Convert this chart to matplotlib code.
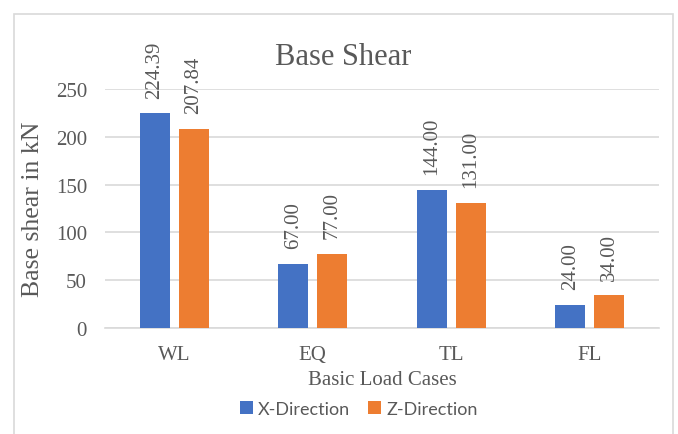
import numpy as np
import matplotlib
matplotlib.use('Agg')
import matplotlib.pyplot as plt
from matplotlib.patches import Rectangle

# Base shear values
cases = ['WL', 'EQ', 'TL', 'FL']
x_dir = [224.39, 67.00, 144.00, 24.00]
z_dir = [207.84, 77.00, 131.00, 34.00]
series_names = ['X-Direction', 'Z-Direction']
y_ticks = [0, 50, 100, 150, 200, 250]

grey = '#595959'
serif = ['Liberation Serif', 'DejaVu Serif']

fig = plt.figure(figsize=(6.78, 4.35), dpi=100)
ax = fig.add_axes([105 / 678, 1 - 329 / 435, 554 / 678, 239 / 435])

pos = np.arange(len(cases))
w = 0.217
gap = 0.065
off = (w + gap) / 2
b1 = ax.bar(pos - off, x_dir, w, color='#4472C4', label=series_names[0], zorder=3)
b2 = ax.bar(pos + off, z_dir, w, color='#ED7D31', label=series_names[1], zorder=3)

# rotated value labels above each bar
for bars, vals in [(b1, x_dir), (b2, z_dir)]:
    for b, v in zip(bars, vals):
        ax.annotate('%.2f' % v, (b.get_x() + b.get_width() / 2, v),
                    xytext=(0, 11.5), textcoords='offset points',
                    rotation=90, ha='center', va='bottom',
                    fontsize=15, color=grey, family=serif, annotation_clip=False)

ax.set_xlim(-0.5, len(cases) - 0.5)
ax.set_ylim(0, 250)
ax.set_yticks(y_ticks)
ax.set_xticks(pos)
ax.set_xticklabels(cases)
ax.yaxis.grid(True, color='#d9d9d9', linewidth=1.2, zorder=0)
ax.tick_params(length=0, labelsize=15, labelcolor=grey)
ax.tick_params(axis='y', pad=13)
ax.tick_params(axis='x', pad=12)
for lab in ax.get_xticklabels() + ax.get_yticklabels():
    lab.set_family(serif)
for s in ['top', 'right', 'left']:
    ax.spines[s].set_visible(False)
ax.spines['bottom'].set_color('#d9d9d9')
ax.spines['bottom'].set_linewidth(1.2)

ax.set_ylabel('Base shear in kN', fontsize=18.5, color=grey, family=serif)
ax.yaxis.set_label_coords(-0.11, 0.5)

fig.text(343 / 678, 1 - 65 / 435, 'Base Shear', fontsize=22, color=grey,
         family=serif, ha='center', va='baseline')
fig.text(382 / 678, 1 - 385 / 435, 'Basic Load Cases', fontsize=15, color=grey,
         family=serif, ha='center', va='baseline')

leg = fig.legend(loc='center', bbox_to_anchor=(359 / 678, 1 - 410 / 435), ncol=2,
                 frameon=False, handlelength=0.7, handleheight=0.7,
                 handletextpad=0.3, columnspacing=1.0,
                 prop={'family': ['Lato', 'DejaVu Sans'], 'size': 13})
for t in leg.get_texts():
    t.set_color(grey)

# light chart border
fig.patches.append(Rectangle((14 / 678, -0.01), (673 - 14) / 678, 1 - 15 / 435 + 0.01,
                             transform=fig.transFigure, fill=False,
                             edgecolor='#d9d9d9', linewidth=1.2))

fig.savefig('out.png', dpi=100)
